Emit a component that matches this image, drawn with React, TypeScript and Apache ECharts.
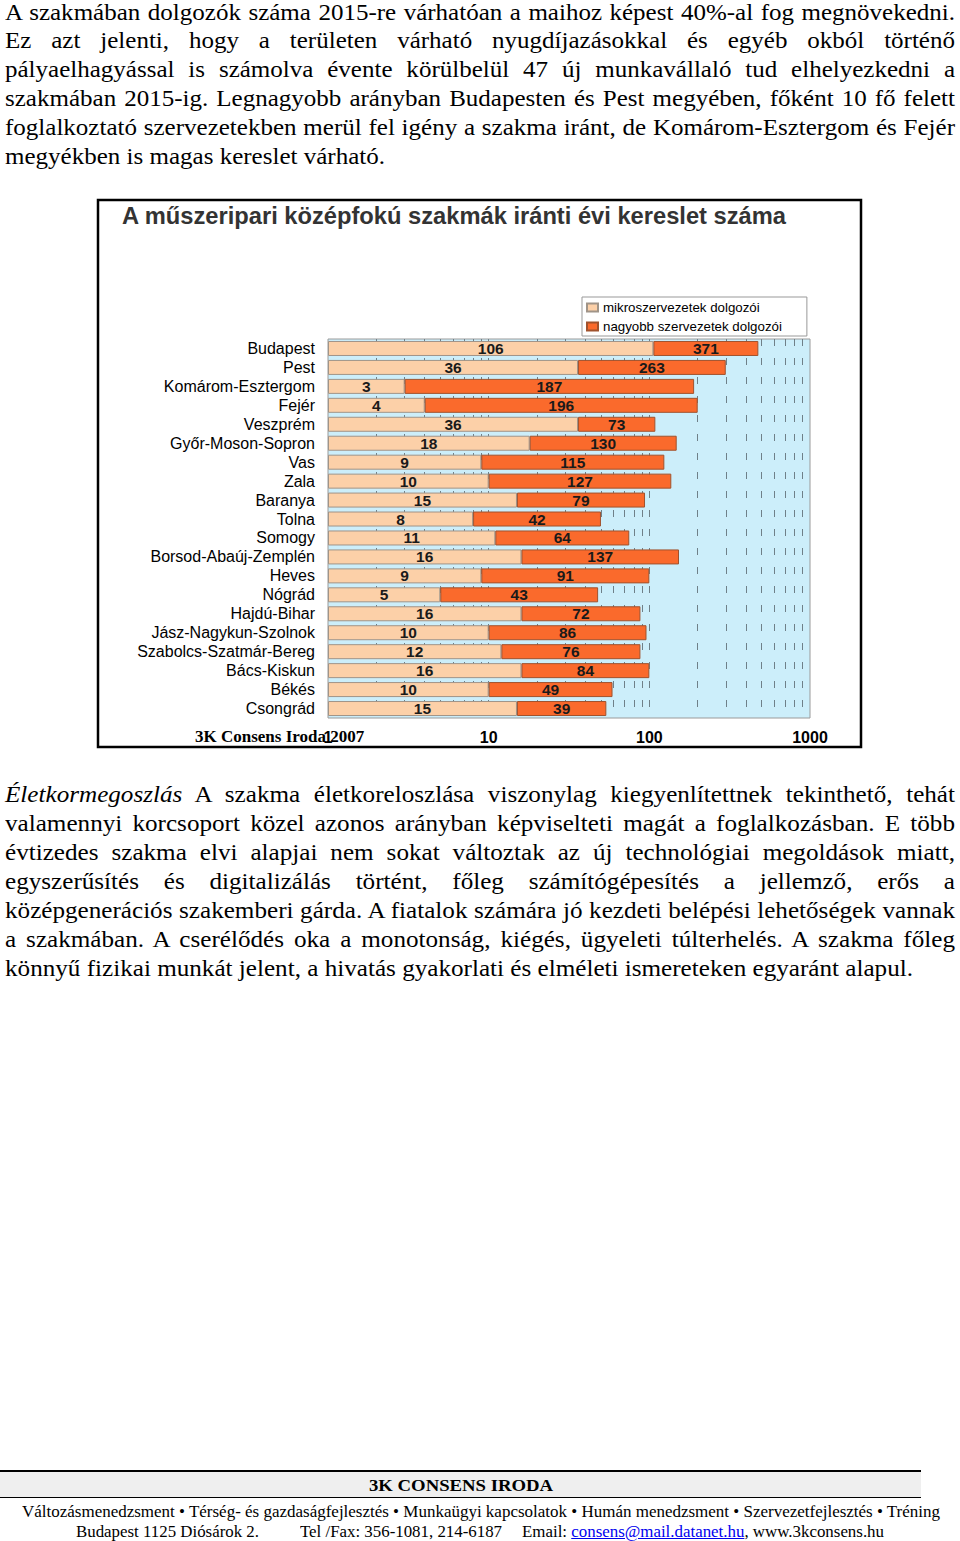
import React, { useEffect, useLayoutEffect, useRef } from "react";
import * as echarts from "echarts";

const categories = [
  "Budapest", "Pest", "Komárom-Esztergom", "Fejér", "Veszprém", "Győr-Moson-Sopron",
  "Vas", "Zala", "Baranya", "Tolna", "Somogy", "Borsod-Abaúj-Zemplén", "Heves",
  "Nógrád", "Hajdú-Bihar", "Jász-Nagykun-Szolnok", "Szabolcs-Szatmár-Bereg",
  "Bács-Kiskun", "Békés", "Csongrád",
];
const microValues = [106, 36, 3, 4, 36, 18, 9, 10, 15, 8, 11, 16, 9, 5, 16, 10, 12, 16, 10, 15];
const largerValues = [371, 263, 187, 196, 73, 130, 115, 127, 79, 42, 64, 137, 91, 43, 72, 86, 76, 84, 49, 39];
const seriesNames = ["mikroszervezetek dolgozói", "nagyobb szervezetek dolgozói"];
const axisMin = 1;
const axisMax = 1000;
const chartTitle = "A műszeripari középfokú szakmák iránti évi kereslet száma";
const sourceNote = "3K Consens Iroda 2007";

const para1Lines = [
  "A szakmában dolgozók száma 2015-re várhatóan a maihoz képest 40%-al fog megnövekedni.",
  "Ez azt jelenti, hogy a területen várható nyugdíjazásokkal és egyéb okból történő",
  "pályaelhagyással is számolva évente körülbelül 47 új munkavállaló tud elhelyezkedni a",
  "szakmában 2015-ig. Legnagyobb arányban Budapesten és Pest megyében, főként 10 fő felett",
  "foglalkoztató szervezetekben merül fel igény a szakma iránt, de Komárom-Esztergom és Fejér",
  "megyékben is magas kereslet várható.",
];
const para2Lead = "Életkormegoszlás";
const para2Lines = [
  "A szakma életkoreloszlása viszonylag kiegyenlítettnek tekinthető, tehát",
  "valamennyi korcsoport közel azonos arányban képviselteti magát a foglalkozásban. E több",
  "évtizedes szakma elvi alapjai nem sokat változtak az új technológiai megoldások miatt,",
  "egyszerűsítés és digitalizálás történt, főleg számítógépesítés a jellemző, erős a",
  "középgenerációs szakemberi gárda. A fiatalok számára jó kezdeti belépési lehetőségek vannak",
  "a szakmában. A cserélődés oka a monotonság, kiégés, ügyeleti túlterhelés. A szakma főleg",
  "könnyű fizikai munkát jelent, a hivatás gyakorlati és elméleti ismereteken egyaránt alapul.",
];

const SANS = "'Liberation Sans', Arial, Helvetica, sans-serif";
const SERIF = "'Liberation Serif', 'Times New Roman', Times, serif";

type ParaProps = {
  lines: React.ReactNode[];
  left: number;
  firstCenter: number;
  pitch: number;
  width: number;
  lastWidth: number;
  fontSize: number;
};

// Justified paragraph: the last line sets a common horizontal condensing factor,
// the other lines are justified to the full width.
function Paragraph({ lines, left, firstCenter, pitch, width, lastWidth, fontSize }: ParaProps) {
  const refs = useRef<(HTMLSpanElement | null)[]>([]);
  useLayoutEffect(() => {
    const els = refs.current.filter(Boolean) as HTMLSpanElement[];
    if (!els.length) return;
    els.forEach((el) => {
      el.style.wordSpacing = "0px";
      el.style.transform = "none";
    });
    const naturals = els.map((el) => el.getBoundingClientRect().width);
    const lastNat = naturals[naturals.length - 1];
    const condense = lastNat > 0 ? lastWidth / lastNat : 1;
    els.forEach((el, i) => {
      const nat = naturals[i];
      if (i === els.length - 1) {
        el.style.transform = `scaleX(${condense})`;
        return;
      }
      const text = el.textContent || "";
      const spaces = (text.match(/ /g) || []).length;
      const target = width / condense;
      if (nat <= target && spaces > 0) {
        el.style.wordSpacing = (target - nat) / spaces + "px";
        el.style.transform = `scaleX(${condense})`;
      } else if (nat > 0) {
        el.style.transform = `scaleX(${width / nat})`;
      }
    });
  }, []);
  const lh = Math.round(fontSize * 1.2);
  return (
    <>
      {lines.map((ln, i) => (
        <span
          key={i}
          ref={(el) => {
            refs.current[i] = el;
          }}
          style={{
            position: "absolute",
            left,
            top: firstCenter + i * pitch - lh / 2,
            whiteSpace: "pre",
            fontSize,
            lineHeight: `${lh}px`,
            transformOrigin: "0 0",
            display: "inline-block",
            color: "#000",
          }}
        >
          {ln}
        </span>
      ))}
    </>
  );
}

type FitProps = {
  children: React.ReactNode;
  left: number;
  centerY: number;
  width: number;
  fontSize: number;
  style?: React.CSSProperties;
};

function FitLine({ children, left, centerY, width, fontSize, style }: FitProps) {
  const ref = useRef<HTMLSpanElement>(null);
  useLayoutEffect(() => {
    const el = ref.current;
    if (!el) return;
    el.style.transform = "none";
    const natural = el.getBoundingClientRect().width;
    if (natural > 0) el.style.transform = `scaleX(${width / natural})`;
  }, []);
  const lh = Math.round(fontSize * 1.2);
  return (
    <span
      ref={ref}
      style={{
        position: "absolute",
        left,
        top: centerY - lh / 2,
        whiteSpace: "pre",
        fontSize,
        lineHeight: `${lh}px`,
        transformOrigin: "0 0",
        display: "inline-block",
        color: "#000",
        ...style,
      }}
    >
      {children}
    </span>
  );
}

function Chart() {
  const ref = useRef<HTMLDivElement>(null);
  useEffect(() => {
    if (!ref.current) return;
    const chart = echarts.init(ref.current, undefined, { renderer: "svg" });
    const gridValues: number[] = [];
    [1, 10, 100].forEach((d) => {
      for (let k = 2; k <= 9; k++) gridValues.push(k * d);
    });
    gridValues.push(10, 100);
    const labelStyle = {
      show: true,
      position: "inside",
      fontFamily: SANS,
      fontWeight: "bold",
      fontSize: 15.5,
      color: "#1a1a1a",
    };
    chart.setOption({
      animation: false,
      title: {
        text: chartTitle,
        left: 122,
        top: 14,
        padding: 0,
        textStyle: { fontFamily: SANS, fontSize: 23.7, fontWeight: "bold", color: "#333" },
      },
      legend: {
        orient: "vertical",
        left: 582,
        top: 107,
        padding: [3, 25, 2, 4],
        itemWidth: 11,
        itemHeight: 8,
        itemGap: 4,
        icon: "rect",
        backgroundColor: "#fff",
        borderColor: "#999",
        borderWidth: 1,
        textStyle: { fontFamily: SANS, fontSize: 13.3, color: "#000", lineHeight: 15 },
        data: seriesNames,
      },
      grid: {
        left: 328,
        right: 150,
        top: 149,
        bottom: 42,
        show: true,
        backgroundColor: "#cceefa",
        borderColor: "#9a9a9a",
        borderWidth: 1,
      },
      xAxis: {
        type: "log",
        logBase: 10,
        min: axisMin,
        max: axisMax,
        axisLine: { show: false },
        axisTick: { show: false },
        splitLine: { show: false },
        axisLabel: {
          fontFamily: SANS,
          fontSize: 16,
          fontWeight: "bold",
          color: "#000",
          margin: 11,
          formatter: (v: number) => String(v),
        },
      },
      yAxis: {
        type: "category",
        inverse: true,
        data: categories,
        axisLine: { show: false },
        axisTick: { show: false },
        axisLabel: { interval: 0, fontFamily: SANS, fontSize: 16, color: "#000", margin: 13 },
      },
      series: [
        {
          name: seriesNames[0],
          type: "bar",
          stack: "total",
          data: microValues,
          barWidth: 15,
          itemStyle: { color: "#fcd0a8", borderColor: "#a09488", borderWidth: 1 },
          label: labelStyle,
          markLine: {
            silent: true,
            symbol: "none",
            z: 1,
            label: { show: false },
            lineStyle: { color: "#6f8088", width: 1, type: [7, 12] },
            data: gridValues.map((v) => ({ xAxis: v })),
          },
        },
        {
          name: seriesNames[1],
          type: "bar",
          stack: "total",
          data: largerValues,
          barWidth: 15,
          itemStyle: { color: "#fa6a2c", borderColor: "#a0522d", borderWidth: 1 },
          label: labelStyle,
        },
      ],
      graphic: [
        {
          type: "rect",
          shape: { x: 98, y: 10, width: 763, height: 547 },
          style: { fill: "none", stroke: "#000", lineWidth: 2.5 },
          silent: true,
        },
        {
          type: "text",
          left: 195,
          top: 538,
          style: { text: sourceNote, font: `bold 17px ${SERIF}`, fill: "#000" },
        },
      ],
    });
    return () => chart.dispose();
  }, []);
  return <div ref={ref} style={{ position: "absolute", left: 0, top: 190, width: 960, height: 570 }} />;
}

export default function App() {
  const p2 = para2Lines.map((t, i) =>
    i === 0 ? (
      <>
        <i>{para2Lead}</i> {t}
      </>
    ) : (
      t
    )
  );
  return (
    <div
      style={{
        position: "absolute",
        left: 0,
        top: 0,
        width: 960,
        height: 1541,
        background: "#fff",
        fontFamily: SERIF,
        overflow: "hidden",
      }}
    >
      <Paragraph lines={para1Lines} left={5} firstCenter={12} pitch={28.8} width={950} lastWidth={380} fontSize={24} />
      <Chart />
      <Paragraph lines={p2} left={5} firstCenter={794} pitch={29} width={950} lastWidth={908} fontSize={24} />
      <div style={{ position: "absolute", left: 0, top: 1470, width: 921, height: 2, background: "#000" }} />
      <div style={{ position: "absolute", left: 0, top: 1472, width: 921, height: 25, background: "#efefef" }} />
      <div style={{ position: "absolute", left: 0, top: 1497, width: 921, height: 1, background: "#000" }} />
      <FitLine left={369} centerY={1486} width={184} fontSize={17} style={{ fontWeight: "bold" }}>
        3K CONSENS IRODA
      </FitLine>
      <FitLine left={22} centerY={1511} width={918} fontSize={16}>
        Változásmenedzsment • Térség- és gazdaságfejlesztés • Munkaügyi kapcsolatok • Humán menedzsment • Szervezetfejlesztés • Tréning
      </FitLine>
      <FitLine left={76} centerY={1531} width={183} fontSize={16}>
        Budapest 1125 Diósárok 2.
      </FitLine>
      <FitLine left={300} centerY={1531} width={202} fontSize={16}>
        Tel /Fax: 356-1081, 214-6187
      </FitLine>
      <FitLine left={522} centerY={1531} width={362} fontSize={16}>
        Email: <span style={{ color: "#0000ee", textDecoration: "underline" }}>consens@mail.datanet.hu</span>, www.3kconsens.hu
      </FitLine>
    </div>
  );
}
